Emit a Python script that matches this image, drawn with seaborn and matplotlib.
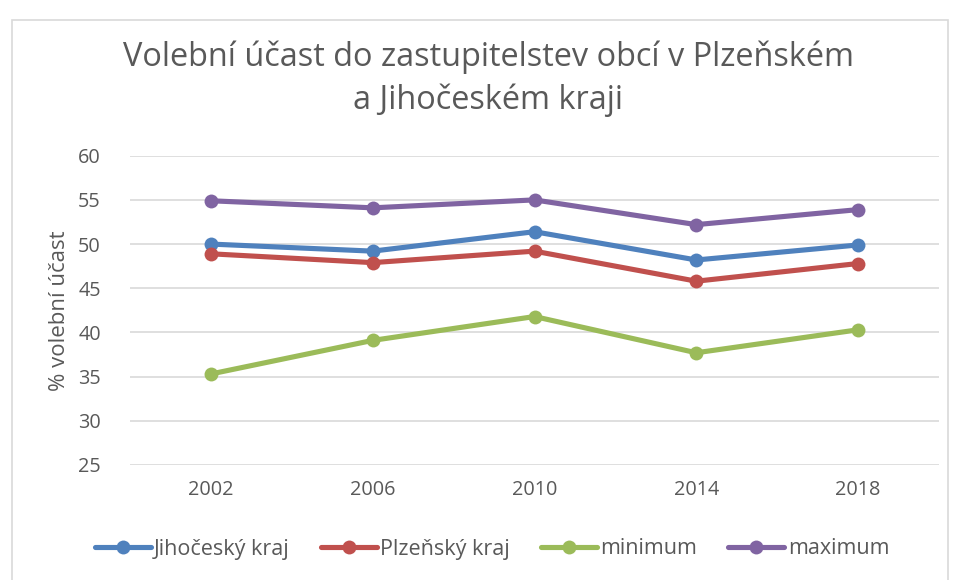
import numpy as np
import pandas as pd
import matplotlib
matplotlib.use('Agg')
import matplotlib.pyplot as plt
import seaborn as sns
from matplotlib.patches import Rectangle

years = ['2002', '2006', '2010', '2014', '2018']
jihocesky = [50.0, 49.2, 51.4, 48.2, 49.9]
plzensky = [48.9, 47.9, 49.2, 45.8, 47.8]
minimum = [35.3, 39.1, 41.8, 37.7, 40.3]
maximum = [54.9, 54.1, 55.0, 52.2, 53.9]

series_names = ['Jihočeský kraj', 'Plzeňský kraj', 'minimum', 'maximum']
series_values = [jihocesky, plzensky, minimum, maximum]
colors = ['#4F81BD', '#C0504D', '#9BBB59', '#8064A2']

rows = []
for name, vals in zip(series_names, series_values):
    for i, v in enumerate(vals):
        rows.append({'pos': i, 'year': years[i], 'value': v, 'series': name})
df = pd.DataFrame(rows)

sns.set_style('white')
plt.rcParams['font.family'] = ['Open Sans', 'DejaVu Sans']
text_col = '#595959'

fig = plt.figure(figsize=(9.57, 5.8), dpi=100)
ax = fig.add_axes([130 / 957, 1 - 465 / 580, (939 - 130) / 957, (465 - 155.7) / 580])

# outer chart border
fig.patches.append(Rectangle((12 / 957, -0.05), (948 - 12) / 957, 1 - 20 / 580 + 0.05,
                             transform=fig.transFigure, fill=False,
                             edgecolor='#D9D9D9', linewidth=1.2))

sns.lineplot(data=df, x='pos', y='value', hue='series', hue_order=series_names,
             palette=colors, marker='o', markersize=10, markeredgewidth=0,
             linewidth=3.7, ax=ax, legend=True)

ax.set_xlim(-0.5, len(years) - 0.5)
ax.set_ylim(25, 60)
ax.set_yticks(np.arange(25, 61, 5))
ax.set_xticks(range(len(years)))
ax.set_xticklabels(years)
ax.grid(axis='y', color='#D9D9D9', linewidth=1.2)
ax.grid(axis='x', visible=False)
ax.set_axisbelow(True)
for s in ax.spines.values():
    s.set_visible(False)
ax.tick_params(axis='both', length=0, labelsize=14.3, labelcolor=text_col)
ax.tick_params(axis='x', pad=11)
ax.tick_params(axis='y', pad=21)
ax.set_xlabel('')
ax.set_ylabel('% volební účast', fontsize=16, color=text_col, labelpad=6)

fig.text(488 / 957, 1 - 79 / 580, 'Volební účast do zastupitelstev obcí v Plzeňském\na Jihočeském kraji',
         ha='center', va='center', fontsize=23.4, color=text_col, linespacing=1.38)

handles, labels = ax.get_legend_handles_labels()
ax.legend(handles, labels, loc='center', bbox_to_anchor=(492 / 957, 1 - 549 / 580),
          bbox_transform=fig.transFigure, ncol=4, frameon=False, fontsize=15.5,
          handlelength=2.6, columnspacing=1.45, handletextpad=0.15, labelcolor=text_col)

fig.savefig('out.png', dpi=100)
